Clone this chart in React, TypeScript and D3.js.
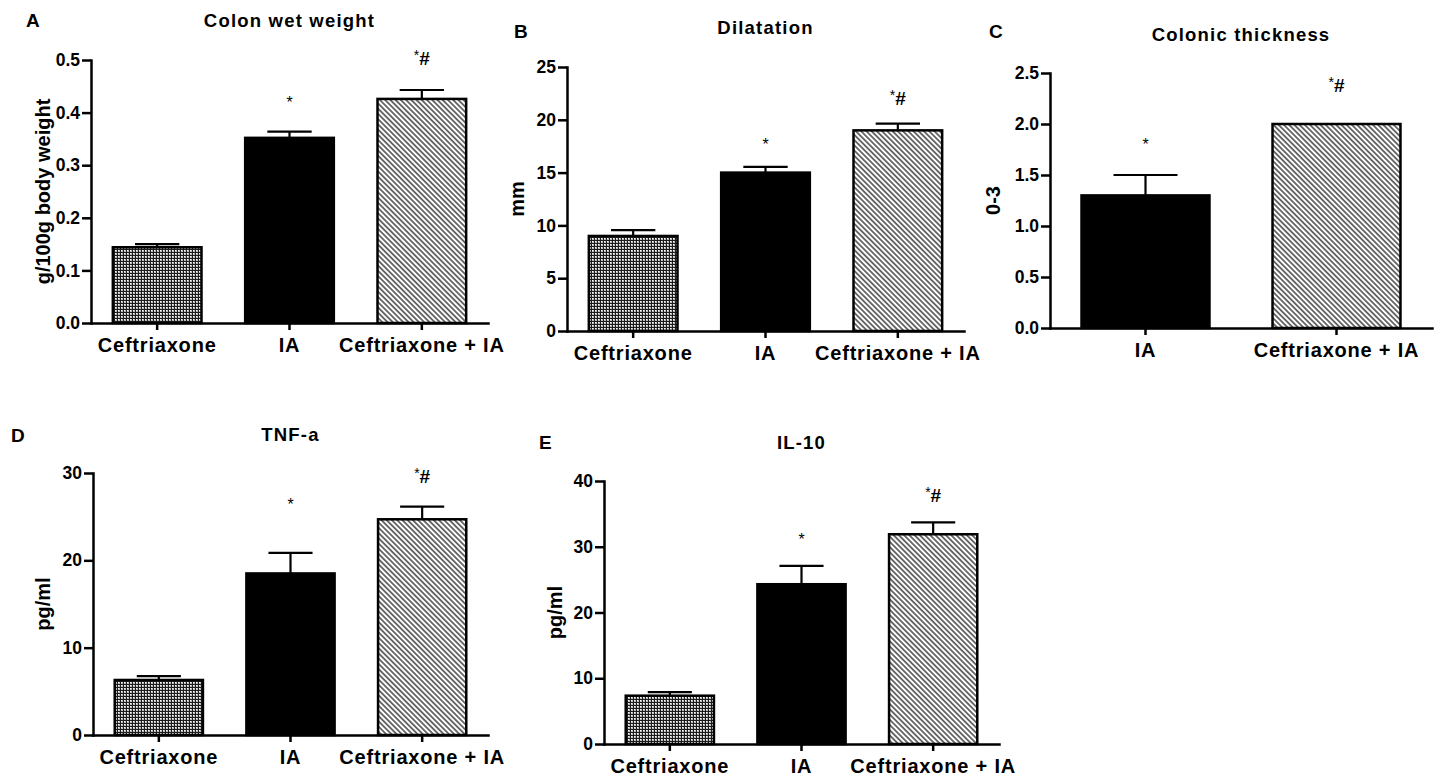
import React, { useRef, useEffect } from 'react';
import * as d3 from 'd3';

const FONT = "'Liberation Sans', Arial, sans-serif";

// groups
const groups3 = ["Ceftriaxone", "IA", "Ceftriaxone + IA"];
const groups2 = ["IA", "Ceftriaxone + IA"];

// A - colon wet weight (g/100g body weight)
const wetWeightMean = [0.144, 0.352, 0.426];
const wetWeightSem = [0.006, 0.012, 0.017];
const wetWeightMarks = ["", "*", "*#"];
const wetWeightMarkY = [0, 0.424, 0.502];
const wetWeightTicks = [0, 0.1, 0.2, 0.3, 0.4, 0.5];

// B - dilatation (mm)
const dilatationMean = [9.0, 15.0, 19.0];
const dilatationSem = [0.55, 0.55, 0.63];
const dilatationMarks = ["", "*", "*#"];
const dilatationMarkY = [0, 17.9, 21.97];
const dilatationTicks = [0, 5, 10, 15, 20, 25];

// C - colonic thickness (score 0-3)
const thicknessMean = [1.3, 2.0];
const thicknessSem = [0.2, 0];
const thicknessMarks = ["*", "*#"];
const thicknessMarkY = [1.82, 2.37];
const thicknessTicks = [0, 0.5, 1.0, 1.5, 2.0, 2.5];

// D - TNF-a (pg/ml)
const tnfMean = [6.3, 18.5, 24.7];
const tnfSem = [0.45, 2.35, 1.45];
const tnfMarks = ["", "*", "*#"];
const tnfMarkY = [0, 26.7, 29.5];
const tnfTicks = [0, 10, 20, 30];

// E - IL-10 (pg/ml)
const il10Mean = [7.35, 24.3, 31.9];
const il10Sem = [0.55, 2.8, 1.8];
const il10Marks = ["", "*", "*#"];
const il10MarkY = [0, 31.5, 37.7];
const il10Ticks = [0, 10, 20, 30, 40];

const fills = {
  "Ceftriaxone": "url(#checker)",
  "IA": "#000",
  "Ceftriaxone + IA": "url(#hatch)",
};

const panels = [
  { letter: "A", title: "Colon wet weight", yLabel: "g/100g body weight", groups: groups3,
    mean: wetWeightMean, sem: wetWeightSem, marks: wetWeightMarks, markY: wetWeightMarkY,
    ticks: wetWeightTicks, fmt: d3.format(".1f"),
    left: 91, right: 488, top: 60, bottom: 323, titleY: 27, letterX: 26, letterY: 27, labelOffset: 48 },
  { letter: "B", title: "Dilatation", yLabel: "mm", groups: groups3,
    mean: dilatationMean, sem: dilatationSem, marks: dilatationMarks, markY: dilatationMarkY,
    ticks: dilatationTicks, fmt: d3.format("d"),
    left: 567, right: 964, top: 67, bottom: 331, titleY: 34, letterX: 514, letterY: 38, labelOffset: 50 },
  { letter: "C", title: "Colonic thickness", yLabel: "0-3", groups: groups2,
    mean: thicknessMean, sem: thicknessSem, marks: thicknessMarks, markY: thicknessMarkY,
    ticks: thicknessTicks, fmt: d3.format(".1f"),
    left: 1050, right: 1432, top: 73, bottom: 328, titleY: 41, letterX: 989, letterY: 38, labelOffset: 57 },
  { letter: "D", title: "TNF-a", yLabel: "pg/ml", groups: groups3,
    mean: tnfMean, sem: tnfSem, marks: tnfMarks, markY: tnfMarkY,
    ticks: tnfTicks, fmt: d3.format("d"),
    left: 93, right: 488, top: 473, bottom: 735, titleY: 441, letterX: 11, letterY: 442, labelOffset: 50 },
  { letter: "E", title: "IL-10", yLabel: "pg/ml", groups: groups3,
    mean: il10Mean, sem: il10Sem, marks: il10Marks, markY: il10MarkY,
    ticks: il10Ticks, fmt: d3.format("d"),
    left: 604, right: 999, top: 481, bottom: 744, titleY: 449, letterX: 539, letterY: 449, labelOffset: 49 },
];

export default function App() {
  const svgRef = useRef(null);

  useEffect(() => {
    const svg = d3.select(svgRef.current);
    svg.selectAll("*").remove();
    svg.attr("width", 1434).attr("height", 778);

    svg.append("rect").attr("width", 1434).attr("height", 778).attr("fill", "#fff");

    // fill patterns
    const defs = svg.append("defs");
    const checker = defs.append("pattern")
      .attr("id", "checker")
      .attr("patternUnits", "userSpaceOnUse")
      .attr("width", 3).attr("height", 3);
    checker.append("rect").attr("width", 3).attr("height", 3).attr("fill", "#1c1c1c");
    checker.append("rect").attr("x", 1).attr("y", 1).attr("width", 2).attr("height", 2).attr("fill", "#bdbdbd");
    checker.append("rect").attr("x", 1).attr("y", 1).attr("width", 1).attr("height", 1).attr("fill", "#fff");

    const hatch = defs.append("pattern")
      .attr("id", "hatch")
      .attr("patternUnits", "userSpaceOnUse")
      .attr("width", 3.7).attr("height", 3.7)
      .attr("patternTransform", "rotate(-45)");
    hatch.append("rect").attr("width", 3.7).attr("height", 3.7).attr("fill", "#fff");
    hatch.append("line")
      .attr("x1", 1.85).attr("y1", 0).attr("x2", 1.85).attr("y2", 3.7)
      .attr("stroke", "#1a1a1a").attr("stroke-width", 1.25);

    panels.forEach(p => {
      const g = svg.append("g");

      const x = d3.scaleBand()
        .domain(p.groups)
        .range([p.left, p.right])
        .paddingInner(0.33)
        .paddingOuter(0.165);

      const y = d3.scaleLinear()
        .domain([0, p.ticks[p.ticks.length - 1]])
        .range([p.bottom, p.top]);

      const rows = p.groups.map((k, i) => ({
        k, m: p.mean[i], s: p.sem[i], mark: p.marks[i], my: p.markY[i]
      }));

      // error bars (upper only)
      const bw = x.bandwidth();
      rows.filter(d => d.s > 0).forEach(d => {
        const cx = x(d.k) + bw / 2;
        g.append("line")
          .attr("x1", cx).attr("x2", cx)
          .attr("y1", y(d.m)).attr("y2", y(d.m + d.s))
          .attr("stroke", "#000").attr("stroke-width", 2.2);
        g.append("line")
          .attr("x1", cx - bw / 4).attr("x2", cx + bw / 4)
          .attr("y1", y(d.m + d.s)).attr("y2", y(d.m + d.s))
          .attr("stroke", "#000").attr("stroke-width", 2.2);
      });

      // bars
      g.selectAll("rect.bar")
        .data(rows)
        .join("rect")
        .attr("class", "bar")
        .attr("x", d => x(d.k))
        .attr("y", d => y(d.m))
        .attr("width", bw)
        .attr("height", d => y(0) - y(d.m))
        .attr("fill", d => fills[d.k])
        .attr("stroke", "#000")
        .attr("stroke-width", 2.5);

      // axes
      const yAxis = g.append("g")
        .attr("transform", `translate(${p.left},0)`)
        .call(d3.axisLeft(y).tickValues(p.ticks).tickFormat(p.fmt).tickSize(9).tickSizeOuter(0).tickPadding(2));
      yAxis.attr("font-family", FONT).attr("font-size", 17.5).attr("font-weight", "bold");
      yAxis.selectAll("line").attr("stroke-width", 2.5);
      yAxis.select(".domain").attr("stroke-width", 2.5).attr("stroke-linecap", "square");

      const xAxis = g.append("g")
        .attr("transform", `translate(0,${p.bottom})`)
        .call(d3.axisBottom(x).tickSize(7).tickSizeOuter(0).tickPadding(8));
      xAxis.attr("font-family", FONT).attr("font-size", 20).attr("font-weight", "bold");
      xAxis.selectAll("text").attr("letter-spacing", 0.8);
      xAxis.selectAll("line").attr("stroke-width", 2.5);
      xAxis.select(".domain").attr("stroke-width", 2.5).attr("stroke-linecap", "square");

      // significance marks
      rows.filter(d => d.mark).forEach(d => {
        const cx = x(d.k) + bw / 2;
        if (d.mark === "*") {
          g.append("text")
            .attr("x", cx).attr("y", y(d.my) + 8)
            .attr("text-anchor", "middle")
            .attr("font-family", FONT).attr("font-size", 16)
            .text("*");
        } else {
          const t = g.append("text")
            .attr("x", cx).attr("y", y(d.my) + 6)
            .attr("text-anchor", "middle")
            .attr("font-family", FONT);
          t.append("tspan").attr("font-size", 14).attr("dy", -5).text("*");
          t.append("tspan").attr("font-size", 19).attr("font-weight", "bold").attr("dy", 5).text("#");
        }
      });

      // titles and labels
      g.append("text")
        .attr("x", (p.left + p.right) / 2).attr("y", p.titleY)
        .attr("text-anchor", "middle")
        .attr("font-family", FONT).attr("font-size", 18.5).attr("font-weight", "bold")
        .attr("letter-spacing", 1.2)
        .text(p.title);

      g.append("text")
        .attr("x", p.letterX).attr("y", p.letterY)
        .attr("font-family", FONT).attr("font-size", 19).attr("font-weight", "bold")
        .text(p.letter);

      g.append("text")
        .attr("transform", `translate(${p.left - p.labelOffset},${(p.top + p.bottom) / 2}) rotate(-90)`)
        .attr("text-anchor", "middle")
        .attr("dominant-baseline", "central")
        .attr("font-family", FONT).attr("font-size", 20).attr("font-weight", "bold")
        .text(p.yLabel);
    });
  }, []);

  return <svg ref={svgRef} style={{ position: 'absolute', left: 0, top: 0 }}></svg>;
}
